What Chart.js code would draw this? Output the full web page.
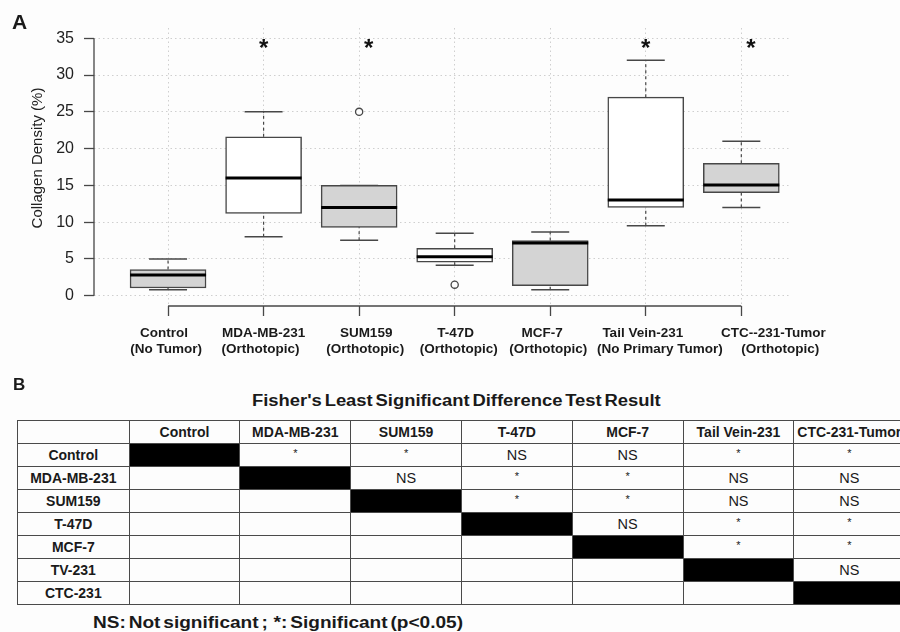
<!DOCTYPE html>
<html>
<head>
<meta charset="utf-8">
<script src="https://cdn.jsdelivr.net/npm/chart.js@4.4.1/dist/chart.umd.min.js"></script>
<style>
  html, body { margin: 0; padding: 0; width: 900px; height: 632px; overflow: hidden; background: #fdfdfd; }
  body { font-family: "Liberation Sans", Arial, sans-serif; color: #1a1a1a; }
  #wrap { position: relative; width: 900px; height: 632px; overflow: hidden; }
  #plot { position: absolute; left: 0; top: 0; }
  .panel { position: absolute; font-weight: bold; line-height: 1; }
  #lsd-title { position: absolute; left: 252px; top: 393px; font-weight: bold; font-size: 16px; word-spacing: -2px; white-space: nowrap; line-height: 1; transform: scaleX(1.15); transform-origin: left top; }
  #lsd { position: absolute; left: 17px; top: 420px; border-collapse: collapse; table-layout: fixed; width: 887px; }
  #lsd td { border: 1.3px solid #4a4a4a; height: 22px; padding: 0; text-align: center; font-size: 14.5px; white-space: nowrap; overflow: hidden; line-height: 1; }
  #lsd td.head { font-weight: bold; font-size: 14px; }
  #lsd td.diag { background: #000; }
  #lsd td.star { font-size: 11px; vertical-align: top; padding-top: 4px; height: 18px; }
  #note { position: absolute; left: 93px; top: 615px; font-weight: bold; font-size: 16px; word-spacing: -2px; white-space: nowrap; line-height: 1; transform: scaleX(1.19); transform-origin: left top; }
</style>
</head>
<body>
<div id="wrap">
  <canvas id="plot" width="900" height="372"></canvas>
  <div class="panel" style="left:12px; top:11px; font-size:21px;">A</div>
  <div class="panel" style="left:13px; top:376px; font-size:17px;">B</div>
  <div id="lsd-title">Fisher's Least Significant Difference Test Result</div>
  <table id="lsd"></table>
  <div id="note">NS: Not significant ;&nbsp; *: Significant (p&lt;0.05)</div>
</div>
<script>
// panel A: collagen density per group
const groups    = ['Control', 'MDA-MB-231', 'SUM159', 'T-47D', 'MCF-7', 'Tail Vein-231', 'CTC--231-Tumor'];
const subLabels = ['(No Tumor)', '(Orthotopic)', '(Orthotopic)', '(Orthotopic)', '(Orthotopic)', '(No Primary Tumor)', '(Orthotopic)'];
const whiskerLow  = [0.8, 8.0, 7.55, 4.15, 0.8, 9.5, 12.0];
const q1          = [1.05, 11.2, 9.3, 4.55, 1.35, 12.0, 14.0];
const medians     = [2.8, 16.0, 12.0, 5.3, 7.15, 13.0, 15.05];
const q3          = [3.55, 21.6, 15.0, 6.45, 7.5, 27.0, 18.0];
const whiskerHigh = [5.0, 25.0, 15.0, 8.5, 8.65, 32.0, 21.0];
const outlierGroup = [3, 4];      // 1-based group index
const outlierValue = [25.0, 1.5];
const starX = [2, 3.1, 6, 7.1];   // significance marks
const starLevel = 34.3;
const yTicks = [0, 5, 10, 15, 20, 25, 30, 35];

// panel B: Fisher's LSD table
const tableCols = ['Control', 'MDA-MB-231', 'SUM159', 'T-47D', 'MCF-7', 'Tail Vein-231', 'CTC-231-Tumor'];
const tableRows = ['Control', 'MDA-MB-231', 'SUM159', 'T-47D', 'MCF-7', 'TV-231', 'CTC-231'];
const lsdResults = [
  ['', '*', '*', 'NS', 'NS', '*', '*'],
  ['', '', 'NS', '*', '*', 'NS', 'NS'],
  ['', '', '', '*', '*', 'NS', 'NS'],
  ['', '', '', '', 'NS', '*', '*'],
  ['', '', '', '', '', '*', '*'],
  ['', '', '', '', '', '', 'NS'],
  ['', '', '', '', '', '', ''],
];

const FONT = '"Liberation Sans", Arial, sans-serif';
const GRAY_FILL = '#d4d4d4';
const LINE = '#474747';
const BOX_PX = 76;
// the original labels are not quite centred on their ticks (px shift, line 1 / line 2)
const LABEL_SHIFT_1 = [-4, 0, 7, 1, -8, -3, 32];
const LABEL_SHIFT_2 = [-2, -3, 6, 4, -2, 14, 39];

function buildTable() {
  const t = document.querySelector('#lsd');
  let html = '<colgroup><col style="width:111.6px">' + tableCols.map(() => '<col style="width:110.8px">').join('') + '</colgroup>';
  html += '<tr><td></td>' + tableCols.map((c) => `<td class="head">${c}</td>`).join('') + '</tr>';
  tableRows.forEach((r, i) => {
    html += `<tr><td class="head">${r}</td>`;
    lsdResults[i].forEach((v, j) => {
      if (i === j) html += '<td class="diag"></td>';
      else if (v === '*') html += '<td class="star">*</td>';
      else html += `<td>${v}</td>`;
    });
    html += '</tr>';
  });
  t.innerHTML = html;
}
buildTable();

const boxPlot = {
  id: 'boxPlot',
  beforeDatasetsDraw(chart) {
    const { ctx, scales: { x, y } } = chart;
    ctx.save();
    ctx.strokeStyle = LINE;
    groups.forEach((g, i) => {
      const px = x.getPixelForValue(i + 1);
      ctx.lineWidth = 1.2;
      ctx.setLineDash([3, 3]);
      ctx.beginPath();
      ctx.moveTo(px, y.getPixelForValue(whiskerLow[i]));
      ctx.lineTo(px, y.getPixelForValue(q1[i]));
      ctx.moveTo(px, y.getPixelForValue(q3[i]));
      ctx.lineTo(px, y.getPixelForValue(whiskerHigh[i]));
      ctx.stroke();
      ctx.setLineDash([]);
      ctx.lineWidth = 1.5;
      ctx.beginPath();
      [whiskerLow[i], whiskerHigh[i]].forEach((v) => {
        const py = y.getPixelForValue(v);
        ctx.moveTo(px - BOX_PX / 4, py);
        ctx.lineTo(px + BOX_PX / 4, py);
      });
      ctx.stroke();
    });
    ctx.restore();
  },
  afterDatasetsDraw(chart) {
    const { ctx, scales: { x, y } } = chart;
    ctx.save();
    // medians
    ctx.strokeStyle = '#000';
    ctx.lineWidth = 3;
    medians.forEach((m, i) => {
      const px = x.getPixelForValue(i + 1);
      const py = y.getPixelForValue(m);
      ctx.beginPath();
      ctx.moveTo(px - BOX_PX / 2, py);
      ctx.lineTo(px + BOX_PX / 2, py);
      ctx.stroke();
    });
    // R style axes: lines only span the tick range
    ctx.strokeStyle = LINE;
    ctx.lineWidth = 1.3;
    ctx.beginPath();
    const ax = chart.chartArea.left;
    ctx.moveTo(ax, y.getPixelForValue(yTicks[0]));
    ctx.lineTo(ax, y.getPixelForValue(yTicks[yTicks.length - 1]));
    const ay = chart.chartArea.bottom;
    ctx.moveTo(x.getPixelForValue(1), ay);
    ctx.lineTo(x.getPixelForValue(groups.length), ay);
    ctx.stroke();
    // category labels, two lines
    ctx.fillStyle = '#1a1a1a';
    ctx.font = 'bold 13.5px ' + FONT;
    ctx.textAlign = 'center';
    ctx.textBaseline = 'middle';
    groups.forEach((g, i) => {
      const px = x.getPixelForValue(i + 1);
      ctx.fillText(g, px + LABEL_SHIFT_1[i], ay + 27);
      ctx.fillText(subLabels[i], px + LABEL_SHIFT_2[i], ay + 43);
    });
    // significance stars
    ctx.fillStyle = '#111';
    ctx.font = 'bold 24px ' + FONT;
    ctx.textBaseline = 'alphabetic';
    starX.forEach((sx) => {
      ctx.fillText('*', x.getPixelForValue(sx), y.getPixelForValue(starLevel) + 13);
    });
    // y title
    ctx.translate(38, 158);
    ctx.rotate(-Math.PI / 2);
    ctx.font = '15px ' + FONT;
    ctx.textBaseline = 'middle';
    ctx.fillStyle = '#222';
    ctx.fillText('Collagen Density (%)', 0, 0);
    ctx.restore();
  },
};

new Chart(document.querySelector('#plot'), {
  type: 'bar',
  data: {
    datasets: [
      {
        type: 'scatter',
        data: outlierGroup.map((g, i) => ({ x: g, y: outlierValue[i] })),
        pointStyle: 'circle',
        pointRadius: 3.6,
        pointBackgroundColor: '#fdfdfd',
        pointBorderColor: LINE,
        pointBorderWidth: 1.3,
        showLine: false,
      },
      {
        type: 'bar',
        data: groups.map((g, i) => ({ x: i + 1, y: [q1[i], q3[i]] })),
        backgroundColor: groups.map((g, i) => (i % 2 === 0 ? GRAY_FILL : '#ffffff')),
        borderColor: LINE,
        borderWidth: 1.5,
        borderSkipped: false,
        barThickness: BOX_PX,
      },
    ],
  },
  options: {
    responsive: false,
    animation: false,
    events: [],
    layout: { padding: { top: 28, right: 109, left: 0, bottom: 0 } },
    plugins: { legend: { display: false }, tooltip: { enabled: false } },
    scales: {
      x: {
        type: 'linear',
        min: 0.225,
        max: 7.52,
        offset: false,
        afterBuildTicks: (s) => { s.ticks = groups.map((g, i) => ({ value: i + 1 })); },
        afterFit: (s) => { s.height = 66; },
        grid: {
          offset: false,
          color: '#cfcfcf',
          lineWidth: 1,
          drawTicks: true,
          tickLength: 10,
          tickColor: LINE,
          tickWidth: 1.3,
          tickBorderDash: [],
        },
        border: { display: false, dash: [1.5, 3] },
        ticks: { display: false },
      },
      y: {
        type: 'linear',
        min: -1.4,
        max: 36.4,
        afterBuildTicks: (s) => { s.ticks = yTicks.map((v) => ({ value: v })); },
        afterFit: (s) => { s.width = 94; },
        grid: {
          color: '#cfcfcf',
          lineWidth: 1,
          drawTicks: true,
          tickLength: 10,
          tickColor: LINE,
          tickWidth: 1.3,
          tickBorderDash: [],
        },
        border: { display: false, dash: [1.5, 3] },
        ticks: {
          padding: 10,
          color: '#222',
          font: { family: FONT, size: 16 },
        },
      },
    },
  },
  plugins: [boxPlot],
});
</script>
</body>
</html>
